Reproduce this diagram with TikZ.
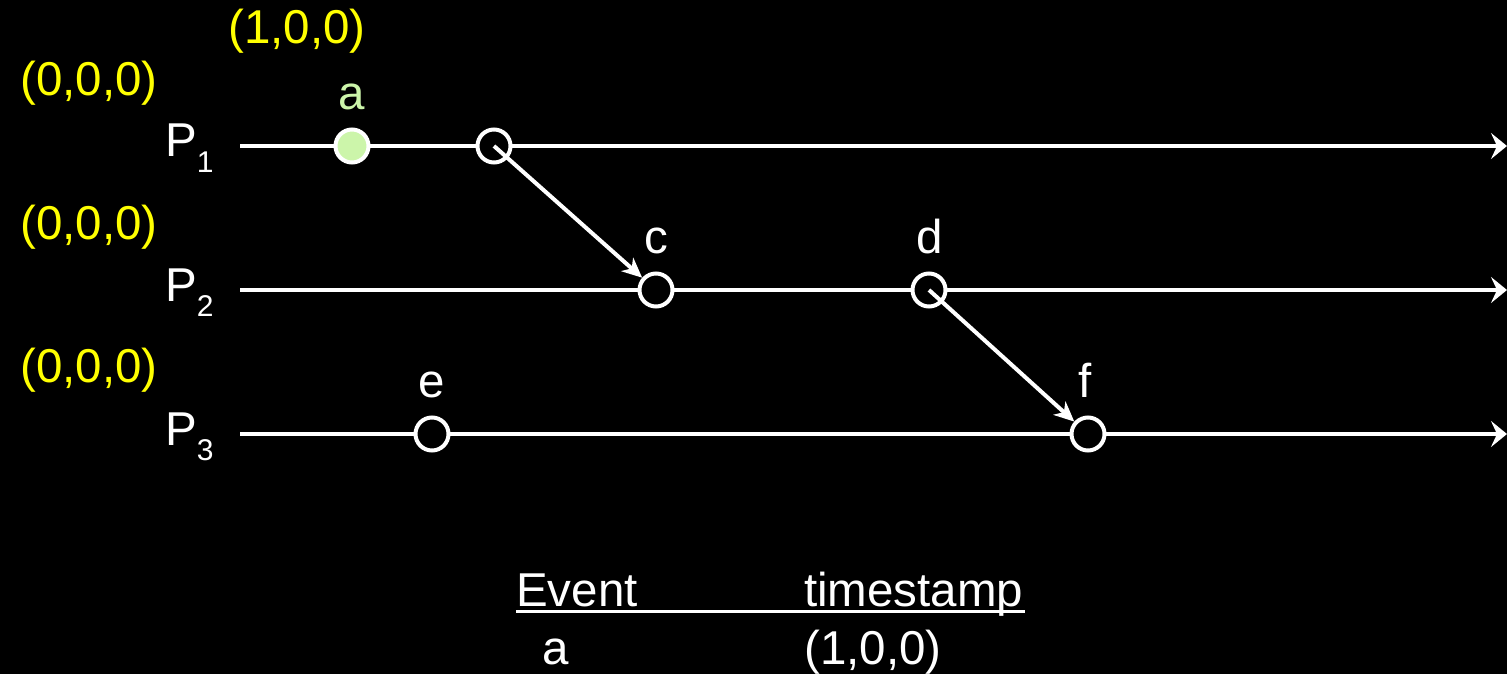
\documentclass[tikz,border=0pt]{standalone}
\usepackage{fontspec}
\setmainfont{Liberation Sans}
\usetikzlibrary{arrows.meta}
\definecolor{ylw}{RGB}{255,255,0}
\definecolor{lgreen}{RGB}{204,245,170}
\newcommand{\sub}[1]{\raisebox{-0.32em}{\fontsize{30}{30}\selectfont #1}}
\tikzset{
  txt/.style={inner sep=0pt, font=\fontsize{47.5}{52}\selectfont, text=white},
  ylab/.style={txt, text=ylw},
  tline/.style={draw=white, line width=4pt, -{Stealth[length=16pt,width=26pt,inset=6pt]}},
  msg/.style={draw=white, line width=4pt, -{Stealth[length=20pt,width=18pt,inset=6pt]}},
  ev/.style={circle, draw=white, line width=4pt, fill=black, minimum size=33pt, inner sep=0pt},
  evfill/.style={ev, fill=lgreen},
}
\begin{document}
\begin{tikzpicture}[x=1pt,y=-1pt]
\fill[black] (0,0) rectangle (1507,674);
\useasboundingbox (0,0) rectangle (1507,674);
% process labels
\node[txt, anchor=base west] (p1) at (165,157) {P\sub{1}};
\node[txt, anchor=base west] (p2) at (165,301) {P\sub{2}};
\node[txt, anchor=base west] (p3) at (165,445) {P\sub{3}};
% initial vectors
\node[ylab, anchor=west] (v1) at (20,83) {(0,0,0)};
\node[ylab, anchor=west] (v2) at (20,227) {(0,0,0)};
\node[ylab, anchor=west] (v3) at (20,370) {(0,0,0)};
\node[ylab] (va) at (297,31) {(1,0,0)};
% time lines
\coordinate (s1) at (240,146); \coordinate (t1) at (1507,146);
\coordinate (s2) at (240,290); \coordinate (t2) at (1507,290);
\coordinate (s3) at (240,434); \coordinate (t3) at (1507,434);
\draw[tline] (s1) -- (t1);
\draw[tline] (s2) -- (t2);
\draw[tline] (s3) -- (t3);
% events
\node[evfill] (a) at (352,146) {};
\node[ev] (b) at (494,146) {};
\node[ev] (c) at (656,290) {};
\node[ev] (d) at (929,290) {};
\node[ev] (e) at (432,434) {};
\node[ev] (f) at (1088,434) {};
% event labels
\node[txt, text=lgreen, anchor=base] (la) at (352,110) {a};
\node[txt, anchor=base] (lc) at (656,253) {c};
\node[txt, anchor=base] (ld) at (930,253) {d};
\node[txt, anchor=base] (le) at (432,397) {e};
\node[txt, anchor=base] (lf) at (1085,397) {f};
% messages
\draw[msg] (b.center) -- (c);
\draw[msg] (d.center) -- (f);
% table
\node[txt, anchor=base west] (th1) at (516,606) {Event};
\node[txt, anchor=base west] (th2) at (804,606) {timestamp};
\coordinate (u1) at (516,611); \coordinate (u2) at (1025,611);
\draw[white, line width=3pt] (u1) -- (u2);
\node[txt, anchor=base west] (ra) at (542,664) {a};
\node[txt, anchor=base west] (rt) at (804,664) {(1,0,0)};
\end{tikzpicture}
\end{document}
